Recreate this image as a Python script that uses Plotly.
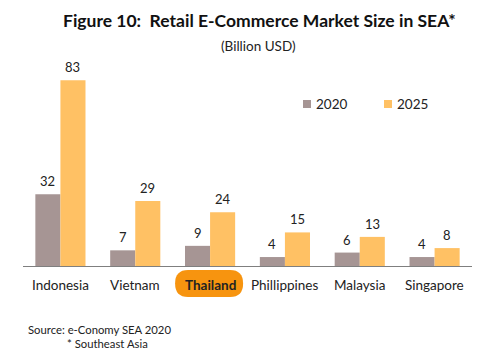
import plotly.graph_objects as go

categories = ["Indonesia", "Vietnam", "Thailand", "Phillippines", "Malaysia", "Singapore"]
values_2020 = [32, 7, 9, 4, 6, 4]
values_2025 = [83, 29, 24, 15, 13, 8]
series_names = ["2020", "2025"]
highlight = "Thailand"

C2020 = "#A69594"
C2025 = "#FFC164"
FONT = "Lato"
TXT = "#222222"

W, H = 499, 360
ML, MR, MT, MB = 23, 27, 60, 94
PW, PH = W - ML - MR, H - MT - MB


def px(xp):
    return (xp - ML) / PW


def py(yp):
    return (H - MB - yp) / PH


fig = go.Figure()
fig.add_trace(go.Bar(x=categories, y=values_2020, name=series_names[0],
                     marker_color=C2020, marker_line_width=0, hoverinfo="skip"))
fig.add_trace(go.Bar(x=categories, y=values_2025, name=series_names[1],
                     marker_color=C2025, marker_line_width=0, hoverinfo="skip"))

ann = []
for cat, v1, v2 in zip(categories, values_2020, values_2025):
    for v, dx in ((v1, -12.5), (v2, 12.5)):
        ann.append(dict(x=cat, y=v, xref="x", yref="y", text=str(v), showarrow=False,
                        xanchor="center", yanchor="middle",
                        xshift=dx, yshift=13, font=dict(family=FONT, size=13, color=TXT)))
    bold = cat == highlight
    ann.append(dict(x=cat, y=0, xref="x", yref="paper", text=f"<b>{cat}</b>" if bold else cat,
                    showarrow=False, xanchor="center", yanchor="middle", yshift=-19,
                    font=dict(family=FONT, size=13.5, color=TXT)))

ann += [
    dict(x=px(259), y=py(20), xref="paper", yref="paper", xanchor="center", yanchor="middle",
         showarrow=False, text="<b>Figure 10:  Retail E-Commerce Market Size in SEA*</b>",
         font=dict(family=FONT, size=17.5, color="#111111")),
    dict(x=px(258.5), y=py(46), xref="paper", yref="paper", xanchor="center", yanchor="middle",
         showarrow=False, text="(Billion USD)",
         font=dict(family=FONT, size=13.5, color=TXT)),
    dict(x=px(26), y=py(329), xref="paper", yref="paper", xanchor="left", yanchor="middle",
         showarrow=False, text="Source: e-Conomy SEA 2020",
         font=dict(family=FONT, size=11.3, color=TXT)),
    dict(x=px(65), y=py(343), xref="paper", yref="paper", xanchor="left", yanchor="middle",
         showarrow=False, text="* Southeast Asia",
         font=dict(family=FONT, size=11.3, color=TXT)),
]

# manual legend
shapes = []
for name, col, sx in ((series_names[0], C2020, 303), (series_names[1], C2025, 384)):
    shapes.append(dict(type="rect", xref="paper", yref="paper",
                       x0=px(sx), x1=px(sx + 8), y0=py(108), y1=py(100),
                       fillcolor=col, line_width=0))
    ann.append(dict(x=px(sx + 11), y=py(104), xref="paper", yref="paper", xanchor="left",
                    yanchor="middle", showarrow=False, text=name,
                    font=dict(family=FONT, size=13.5, color=TXT)))

# Rounded pill behind the highlighted label
i = categories.index(highlight)
n = len(categories)
cx = ML + (i + 0.5) / n * PW
x0, x1 = px(cx - 35), px(cx + 33)
y0, y1 = py(297), py(270)
r = 13 / PW
ym = (y0 + y1) / 2
path = (f"M {x0 + r} {y1} L {x1 - r} {y1} Q {x1} {y1} {x1} {ym} "
        f"Q {x1} {y0} {x1 - r} {y0} L {x0 + r} {y0} Q {x0} {y0} {x0} {ym} "
        f"Q {x0} {y1} {x0 + r} {y1} Z")
shapes.append(dict(type="path", path=path, xref="paper", yref="paper",
                   fillcolor="#F7940F", line_width=0, layer="below"))

fig.update_layout(
    width=W, height=H,
    margin=dict(l=ML, r=MR, t=MT, b=MB, autoexpand=False),
    paper_bgcolor="white", plot_bgcolor="white",
    barmode="group", bargap=0.33, bargroupgap=0,
    showlegend=False, hovermode=False,
    xaxis=dict(showticklabels=False, ticks="", showgrid=False, zeroline=False,
               showline=True, linecolor="#7f7f7f", linewidth=1, fixedrange=True),
    yaxis=dict(range=[0, 92], visible=False, fixedrange=True),
    font=dict(family=FONT),
    annotations=ann,
    shapes=shapes,
)

fig.write_html("out.html", config={"displayModeBar": False},
               post_script="document.body.style.margin='0';")
